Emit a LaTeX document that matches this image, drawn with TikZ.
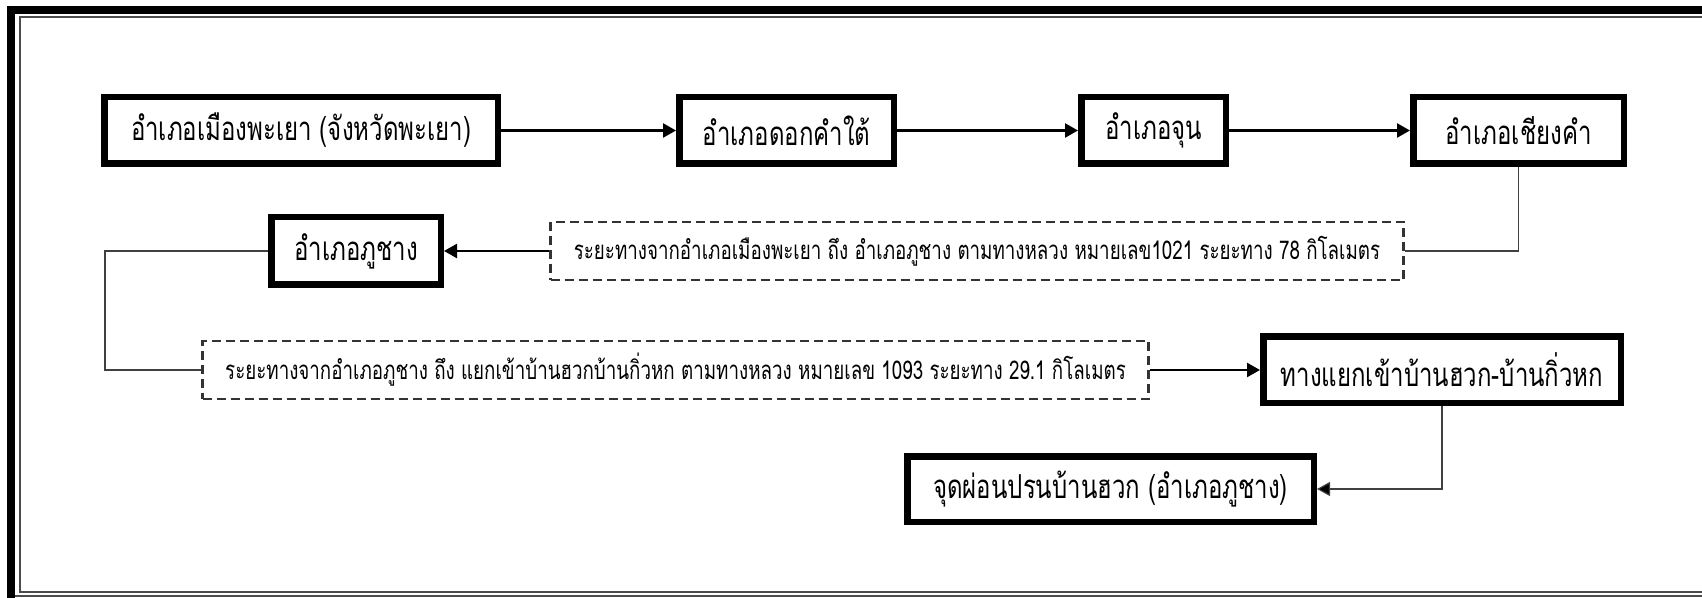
\documentclass[tikz,border=0pt]{standalone}
\usepackage{fontspec}
\usetikzlibrary{arrows.meta}
\newfontfamily\thaifont[Script=Thai,FakeStretch=0.727]{Loma}
\tikzset{
  mainbox/.style={draw=black, line width=3.25pt, fill=white, inner sep=0pt,
    minimum height=33.25pt, font=\thaifont\fontsize{16.5}{19}\selectfont},
  distbox/.style={draw=black!80, line width=1.2pt, dash pattern=on 4.5pt off 2.5pt,
    fill=white, inner sep=0pt, minimum height=29pt,
    font=\thaifont\fontsize{12.9}{15}\selectfont},
  thickarrow/.style={draw=black, line width=1.2pt, -{Triangle[length=6.5pt,width=7pt]}},
  thinline/.style={draw=black!75, line width=0.6pt},
  thinarrow/.style={draw=black!75, line width=0.6pt, -{Triangle[length=6.5pt,width=7pt,fill=black]}},
  framethick/.style={draw=black, line width=4pt},
  framethin/.style={draw=black!70, line width=1pt}
}
\begin{document}
\begin{tikzpicture}[x=0.5pt,y=-0.5pt]
\useasboundingbox (0,0) rectangle (1702,598);
% frame
\draw[framethick] (1702,10) -- (11,10) -- (11,598);
\draw[framethin] (1702,17.5) -- (19.5,17.5) -- (19.5,591.5) -- (1702,591.5);
\draw[framethin] (15,596) -- (1702,596);
% nodes
\node[mainbox, minimum width=196.75pt] (n1) at (301,130.5) {อำเภอเมืองพะเยา (จังหวัดพะเยา)};
\node[mainbox, minimum width=107.25pt] (n2) at (786.5,130.5) {อำเภอดอกคำใต้};
\node[mainbox, minimum width=72.25pt] (n3) at (1153.5,130.5) {อำเภอจุน};
\node[mainbox, minimum width=105.25pt] (n4) at (1518.5,130.5) {อำเภอเชียงคำ};
\node[distbox, minimum width=426.5pt] (d1) at (977,251) {ระยะทางจากอำเภอเมืองพะเยา ถึง อำเภอภูชาง ตามทางหลวง หมายเลข1021 ระยะทาง 78 กิโลเมตร};
\node[mainbox, minimum width=84.75pt, minimum height=33.75pt] (n5) at (356,251) {อำเภอภูชาง};
\node[distbox, minimum width=473pt] (d2) at (675.5,370) {ระยะทางจากอำเภอภูชาง ถึง แยกเข้าบ้านฮวกบ้านกิ่วหก ตามทางหลวง หมายเลข 1093 ระยะทาง 29.1 กิโลเมตร};
\node[mainbox, minimum width=178.75pt] (n6) at (1442,370) {ทางแยกเข้าบ้านฮวก-บ้านกิ่วหก};
\node[mainbox, minimum width=203.25pt, minimum height=32.75pt] (n7) at (1110.5,489) {จุดผ่อนปรนบ้านฮวก (อำเภอภูชาง)};
\coordinate (c1) at (105,251);
% connectors
\draw[thickarrow] (n1.east) -- (n2.west);
\draw[thickarrow] (n2.east) -- (n3.west);
\draw[thickarrow] (n3.east) -- (n4.west);
\draw[thinline] (n4.south) |- (d1.east);
\draw[thickarrow] (d1.west) -- (n5.east);
\draw[thinline] (n5.west) -- (c1) |- (d2.west);
\draw[thickarrow] (d2.east) -- (n6.west);
\draw[thinarrow] (n6.south) |- (n7.east);
\end{tikzpicture}
\end{document}
